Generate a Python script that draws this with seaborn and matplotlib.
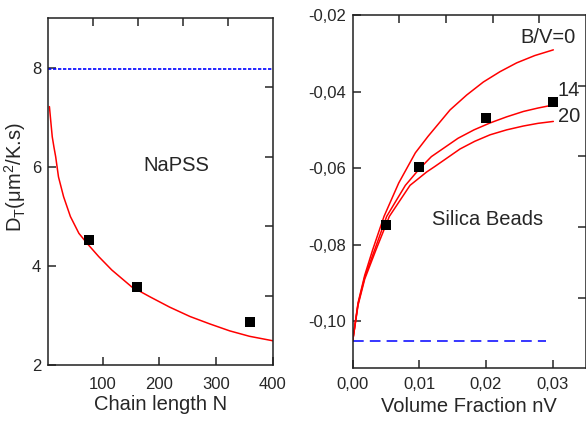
import numpy as np
import pandas as pd
import seaborn as sns
import matplotlib.pyplot as plt

# ---- left panel: NaPSS, D_T vs chain length
napss_N = [75, 160, 360]
napss_DT = [4.52, 3.57, 2.86]
fit_N = [6, 9, 11, 14, 17, 22, 31, 43, 58, 73, 93, 116, 151, 183, 218, 254, 289, 324, 359, 400]
fit_DT = [7.22, 6.85, 6.61, 6.40, 6.21, 5.80, 5.40, 5.00, 4.66, 4.45, 4.19, 3.92, 3.58, 3.38,
          3.17, 2.98, 2.83, 2.69, 2.58, 2.49]
napss_limit = 7.98

# ---- right panel: silica beads vs volume fraction
silica_phi = [0.005, 0.010, 0.020, 0.030]
silica_val = [-0.0748, -0.0598, -0.0468, -0.0428]

bv0_phi = [0, 0.0008, 0.0018, 0.0030, 0.0047, 0.0069, 0.0094, 0.0113, 0.0146, 0.0171,
           0.0196, 0.0221, 0.0246, 0.0273, 0.0301]
bv0_val = [-0.1051, -0.0952, -0.0880, -0.0813, -0.0726, -0.0639, -0.0560, -0.0517, -0.0448,
           -0.0409, -0.0375, -0.0348, -0.0325, -0.0306, -0.0291]
bv14_phi = [0, 0.0008, 0.0018, 0.0033, 0.0051, 0.0079, 0.0100, 0.0118, 0.0158, 0.0182,
            0.0206, 0.0231, 0.0256, 0.0278, 0.0301]
bv14_val = [-0.1051, -0.0955, -0.0885, -0.0813, -0.0726, -0.0645, -0.0602, -0.0570, -0.0522,
            -0.0500, -0.0482, -0.0466, -0.0452, -0.0443, -0.0435]
bv20_phi = [0, 0.0008, 0.0018, 0.0035, 0.0055, 0.0086, 0.0111, 0.0123, 0.0161, 0.0183,
            0.0206, 0.0231, 0.0256, 0.0278, 0.0301]
bv20_val = [-0.1051, -0.0958, -0.0890, -0.0813, -0.0726, -0.0645, -0.0610, -0.0596, -0.0550,
            -0.0530, -0.0513, -0.0500, -0.0490, -0.0483, -0.0478]
silica_limit = -0.1051
silica_limit_end = 0.029

left_xticks = [100, 200, 300, 400]
left_yticks = [2, 4, 6, 8]
right_xticks = [0.0, 0.01, 0.02, 0.03]
right_xlabels = ['0,00', '0,01', '0,02', '0,03']
right_yticks = [-0.10, -0.08, -0.06, -0.04, -0.02]
right_ylabels = ['-0,10', '-0,08', '-0,06', '-0,04', '-0,02']
frame_ticks = [1, 2, 3, 4]

sns.set_theme(style='ticks')
plt.rcParams['font.family'] = ['Liberation Sans', 'DejaVu Sans']
plt.rcParams['mathtext.fontset'] = 'custom'
plt.rcParams['mathtext.rm'] = 'Liberation Sans'
plt.rcParams['mathtext.it'] = 'Liberation Sans:italic'
plt.rcParams['axes.linewidth'] = 1.1

fig = plt.figure(figsize=(5.86, 4.23), dpi=100)
ax1 = fig.add_axes([0.0824, 0.1371, 0.3830, 0.8215])
ax2 = fig.add_axes([0.6019, 0.1293, 0.3981, 0.8352])

red = '#ff0000'
blue = '#0000ff'
fs = 14.5

# left panel
sns.lineplot(x=fit_N, y=fit_DT, ax=ax1, color=red, lw=1.1, estimator=None, sort=False)
sns.scatterplot(x=napss_N, y=napss_DT, ax=ax1, marker='s', color='black', s=55,
                edgecolor='black', linewidth=0, zorder=5)
ax1.axhline(napss_limit, color=blue, lw=1.2, dashes=(2, 1))
ax1.set_xlim(4, 400)
ax1.set_ylim(2, 9.02)
ax1.set_xticks(left_xticks)
ax1.set_yticks(left_yticks)
ax1.set_xlabel('Chain length N', fontsize=fs, labelpad=2)
ax1.set_ylabel('D$_\\mathrm{T}$(μm$^2$/K.s)', fontsize=fs)
ax1.yaxis.set_label_coords(-0.09, 0.54)
ax1.text(171, 6.04, 'NaPSS', fontsize=fs, va='center', ha='left')

# right panel
for phi, val in [(bv0_phi, bv0_val), (bv14_phi, bv14_val), (bv20_phi, bv20_val)]:
    sns.lineplot(x=phi, y=val, ax=ax2, color=red, lw=1.1, estimator=None, sort=False)
sns.scatterplot(x=silica_phi, y=silica_val, ax=ax2, marker='s', color='black', s=55,
                edgecolor='black', linewidth=0, zorder=5)
ax2.hlines(silica_limit, 0, silica_limit_end, color=blue, lw=1.1, linestyles=(0, (7, 4)))
ax2.set_xlim(0, 0.035)
ax2.set_ylim(-0.1123, -0.02)
ax2.set_xticks(right_xticks, right_xlabels)
ax2.set_yticks(right_yticks, right_ylabels)
ax2.set_xlabel('Volume Fraction nV', fontsize=fs, labelpad=3)
ax2.text(0.0251, -0.0260, 'B/V=0', fontsize=fs, va='center', ha='left')
ax2.text(0.0307, -0.0396, '14', fontsize=fs, va='center', ha='left')
ax2.text(0.0308, -0.0466, '20', fontsize=fs, va='center', ha='left')
ax2.text(0.0119, -0.0735, 'Silica Beads', fontsize=fs, va='center', ha='left')

for ax, xpad in ((ax1, 8.5), (ax2, 6.5)):
    ax.tick_params(direction='in', length=6, width=1.1, labelsize=12, pad=5)
    ax.tick_params(axis='x', pad=xpad)
    for s in ax.spines.values():
        s.set_visible(True)
        s.set_color('#202020')
    # unlabeled frame ticks on top and right
    fr = fig.add_axes(ax.get_position())
    fr.patch.set_visible(False)
    fr.set_xlim(0, 5)
    fr.set_ylim(0, 5)
    fr.set_xticks(frame_ticks)
    fr.set_yticks(frame_ticks)
    fr.tick_params(direction='in', length=6, width=1.1, top=True, right=True,
                   bottom=False, left=False, labelbottom=False, labelleft=False)
    for s in fr.spines.values():
        s.set_visible(False)

fig.savefig('out.png', dpi=100)
